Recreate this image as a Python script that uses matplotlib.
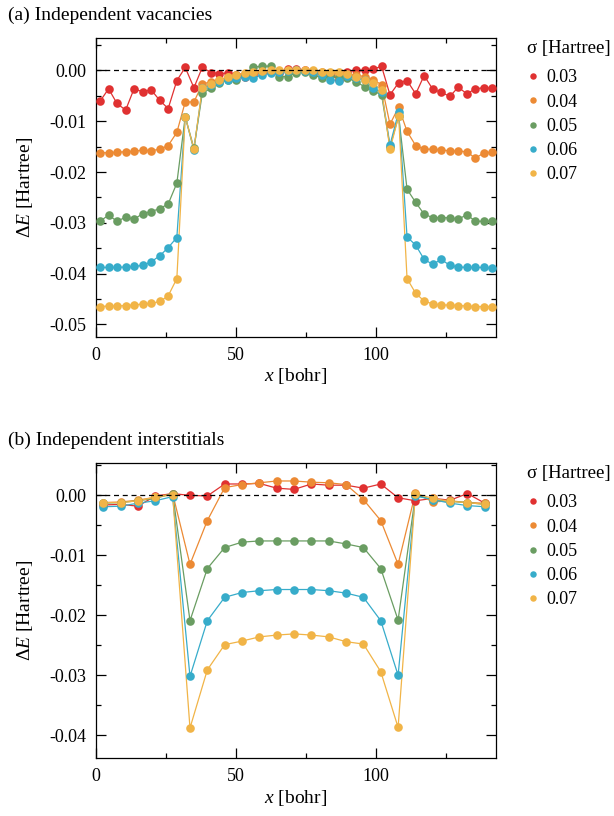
import numpy as np
import matplotlib
matplotlib.use("Agg")
import matplotlib.pyplot as plt

plt.rcParams['font.family'] = ['Liberation Serif', 'DejaVu Serif']
plt.rcParams['mathtext.fontset'] = 'custom'
plt.rcParams['mathtext.rm'] = 'Liberation Serif'
plt.rcParams['mathtext.it'] = 'Liberation Serif:italic'

sigmas = ['0.03', '0.04', '0.05', '0.06', '0.07']
colors = ['#e03131', '#ec8a34', '#6a9d62', '#37acca', '#f1b447']

# (a) vacancies, 47 sites
x_vac = [1.4, 4.5, 7.5, 10.6, 13.6, 16.7, 19.7, 22.8, 25.8, 28.9, 31.9, 35.0, 38.0, 41.1, 44.1, 47.2,
         50.2, 53.3, 56.3, 59.4, 62.4, 65.5, 68.5, 71.6, 74.6, 77.7, 80.7, 83.8, 86.8, 89.9, 92.9, 96.0,
         99.0, 102.1, 105.1, 108.2, 111.2, 114.3, 117.3, 120.4, 123.4, 126.5, 129.5, 132.6, 135.6, 138.7, 141.7]

vac_003 = [-0.0061, -0.0036, -0.0065, -0.0078, -0.0036, -0.0042, -0.0038, -0.0059, -0.0075, -0.0020,
           0.0006, -0.0034, 0.0006, -0.0004, -0.0006, -0.0005, -0.0008, -0.0012, -0.0006, -0.0003,
           -0.0002, -0.0004, 0.0003, 0.0003, 0.0001, -0.0002, -0.0004, -0.0008, -0.0018, -0.0002,
           0.0001, 0.0000, 0.0003, 0.0008, -0.0048, -0.0024, -0.0020, -0.0046, -0.0010, -0.0037,
           -0.0043, -0.0051, -0.0033, -0.0046, -0.0036, -0.0034, -0.0035]
vac_004 = [-0.0162, -0.0162, -0.0161, -0.0160, -0.0159, -0.0157, -0.0158, -0.0155, -0.0148, -0.0122,
           -0.0062, -0.0062, -0.0027, -0.0022, -0.0018, -0.0013, -0.0009, -0.0006, -0.0004, -0.0003,
           -0.0002, -0.0001, -0.0001, 0.0000, -0.0001, -0.0002, -0.0003, -0.0005, -0.0006, -0.0008,
           -0.0009, -0.0012, -0.0018, -0.0028, -0.0106, -0.0072, -0.0120, -0.0148, -0.0155, -0.0155,
           -0.0157, -0.0158, -0.0159, -0.0160, -0.0173, -0.0162, -0.0161]
vac_005 = [-0.0297, -0.0285, -0.0297, -0.0289, -0.0293, -0.0282, -0.0278, -0.0272, -0.0263, -0.0222,
           -0.0091, -0.0153, -0.0045, -0.0035, -0.0025, -0.0018, -0.0018, -0.0008, 0.0007, 0.0008,
           0.0009, -0.0012, -0.0012, -0.0004, -0.0002, -0.0008, -0.0015, -0.0010, -0.0012, -0.0015,
           -0.0022, -0.0032, -0.0040, -0.0048, -0.0150, -0.0090, -0.0234, -0.0260, -0.0283, -0.0290,
           -0.0290, -0.0290, -0.0293, -0.0284, -0.0297, -0.0297, -0.0297]
vac_006 = [-0.0388, -0.0388, -0.0388, -0.0387, -0.0386, -0.0384, -0.0377, -0.0365, -0.0349, -0.0329,
           -0.0091, -0.0157, -0.0035, -0.0028, -0.0022, -0.0018, -0.0015, -0.0012, -0.0015, -0.0008,
           -0.0005, -0.0003, -0.0001, 0.0000, -0.0001, -0.0003, -0.0008, -0.0018, -0.0020, -0.0010,
           -0.0015, -0.0018, -0.0035, -0.0042, -0.0147, -0.0081, -0.0328, -0.0344, -0.0372, -0.0382,
           -0.0372, -0.0384, -0.0387, -0.0388, -0.0388, -0.0388, -0.0390]
vac_007 = [-0.0465, -0.0464, -0.0464, -0.0463, -0.0462, -0.0460, -0.0459, -0.0455, -0.0444, -0.0410,
           -0.0091, -0.0155, -0.0035, -0.0026, -0.0018, -0.0013, -0.0009, -0.0005, -0.0002, -0.0001,
           0.0000, 0.0000, 0.0000, 0.0000, 0.0000, 0.0000, -0.0002, -0.0002, -0.0003, -0.0007,
           -0.0012, -0.0018, -0.0025, -0.0039, -0.0155, -0.0090, -0.0410, -0.0439, -0.0454, -0.0460,
           -0.0462, -0.0462, -0.0463, -0.0464, -0.0465, -0.0465, -0.0465]

# (b) interstitials, 23 sites
x_int = [2.6, 8.8, 15.0, 21.2, 27.4, 33.6, 39.8, 46.0, 52.2, 58.4, 64.6, 70.8, 77.0, 83.2, 89.4, 95.6,
         101.8, 108.0, 114.2, 120.4, 126.6, 132.8, 139.0]

int_003 = [-0.0016, -0.0015, -0.0018, -0.0001, 0.0003, 0.0000, -0.0001, 0.0019, 0.0019, 0.0020, 0.0012,
           0.0010, 0.0019, 0.0017, 0.0017, 0.0012, 0.0019, -0.0004, -0.0009, -0.0005, -0.0008, 0.0003, -0.0013]
int_004 = [-0.0012, -0.0011, -0.0008, -0.0003, 0.0003, -0.0115, -0.0042, 0.0013, 0.0018, 0.0021, 0.0024,
           0.0024, 0.0022, 0.0021, 0.0018, -0.0007, -0.0042, -0.0115, 0.0004, -0.0011, -0.0009, -0.0012, -0.0013]
int_005 = [-0.0013, -0.0012, -0.0009, -0.0005, 0.0003, -0.0209, -0.0122, -0.0087, -0.0078, -0.0076, -0.0076,
           -0.0076, -0.0076, -0.0076, -0.0081, -0.0087, -0.0122, -0.0208, 0.0000, -0.0007, -0.0010, -0.0012, -0.0015]
int_006 = [-0.0019, -0.0018, -0.0013, -0.0009, -0.0002, -0.0302, -0.0209, -0.0170, -0.0162, -0.0159, -0.0157,
           -0.0157, -0.0157, -0.0159, -0.0163, -0.0170, -0.0209, -0.0300, -0.0001, -0.0007, -0.0013, -0.0017, -0.0019]
int_007 = [-0.0012, -0.0012, -0.0009, -0.0003, 0.0001, -0.0388, -0.0291, -0.0249, -0.0243, -0.0236, -0.0233,
           -0.0231, -0.0233, -0.0236, -0.0244, -0.0248, -0.0294, -0.0387, 0.0003, -0.0005, -0.0010, -0.0012, -0.0015]

vac = [vac_003, vac_004, vac_005, vac_006, vac_007]
inter = [int_003, int_004, int_005, int_006, int_007]

fig = plt.figure(figsize=(6.14, 8.16), dpi=100)
ax1 = fig.add_axes([96/614, 1-337/816, 400/614, 299/816])
ax2 = fig.add_axes([96/614, 1-758/816, 400/614, 295/816])


def panel(ax, x, ys, ylim, h):
    for y, c, s in zip(ys, colors, sigmas):
        ax.plot(x, y, '-', color=c, lw=0.9, zorder=2)
        ax.plot(x, y, 'o', color=c, ms=6.2, mew=0, zorder=3, label=s)
    ax.axhline(0, color='black', ls=(0, (4, 3)), lw=0.9, zorder=5)
    ax.set_xlim(0, 143)
    ax.set_xticks([0, 50, 100])
    ax.set_xticks([25, 75, 125], minor=True)
    ax.set_yticks(np.arange(-0.05, 0.001, 0.01))
    ax.set_yticks(np.arange(-0.05, 0.006, 0.005), minor=True)
    ax.set_ylim(*ylim)
    ax.yaxis.set_major_formatter(plt.FuncFormatter(lambda v, p: ('%.2f' % v).replace('-0.00', '0.00')))
    ax.tick_params(which='both', direction='in', top=True, right=True, labelsize=13, pad=7)
    ax.tick_params(which='major', length=7, width=0.9)
    ax.tick_params(which='minor', length=3.6, width=0.9)
    for sp in ax.spines.values():
        sp.set_linewidth(0.9)
    ax.set_xlabel('$x$ [bohr]', fontsize=14, labelpad=2)
    ax.set_ylabel(r'$\Delta E$ [Hartree]', fontsize=14, labelpad=10)
    leg = ax.legend(title='σ [Hartree]', loc='upper left', bbox_to_anchor=(1.0375, 1 + 14 / h), frameon=False,
                    fontsize=13, title_fontsize=13.5, handletextpad=0.45, handlelength=0.6,
                    labelspacing=0.4, alignment='left', markerscale=0.75)
    # a bit more room between the legend title and the entries
    leg._legend_box.sep = 8.8


panel(ax1, x_vac, vac, (-0.0525, 0.0064), 299)
panel(ax2, x_int, inter, (-0.0438, 0.0054), 295)

fig.text(8/614, 1-15/816, '(a) Independent vacancies', fontsize=14, va='center', ha='left')
fig.text(8/614, 1-440/816, '(b) Independent interstitials', fontsize=14, va='center', ha='left')

fig.savefig('out.png', dpi=100)
